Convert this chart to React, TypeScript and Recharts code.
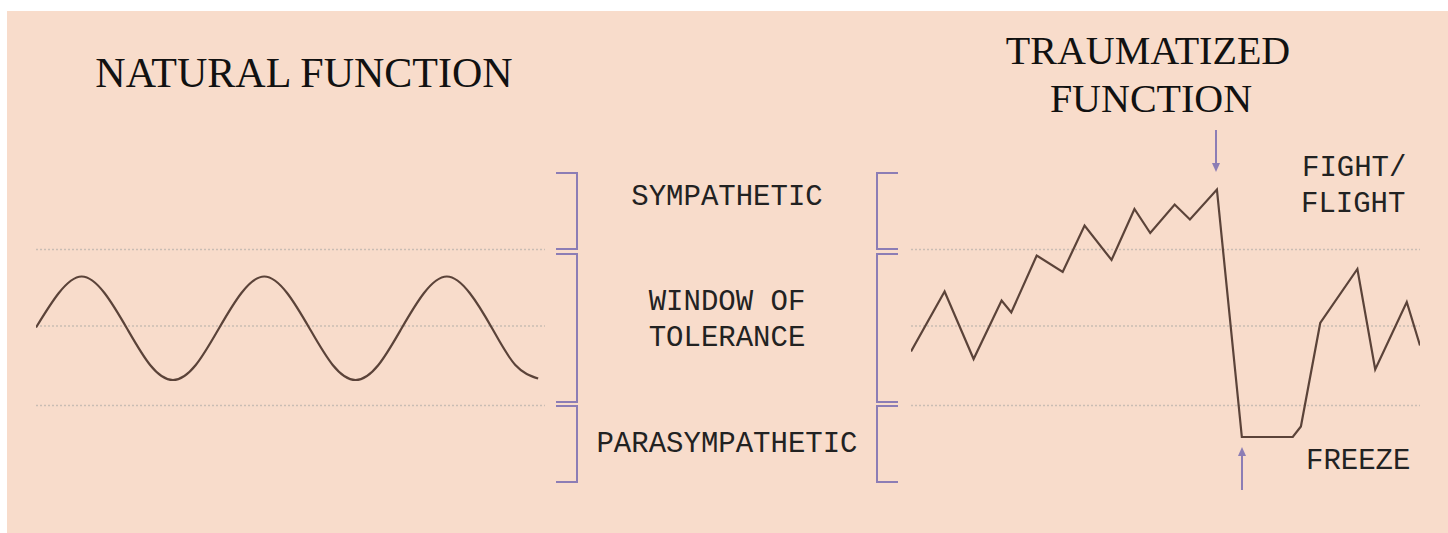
import React from 'react';
import { LineChart, Line, XAxis, YAxis, ReferenceLine } from 'recharts';

// band edges on the arousal scale (shared by both panels)
const bandLevels = [51, 0, -53];

// natural function: steady wave, sampled every eighth of a period
const naturalT = [0, 0.5, 1, 1.5, 2, 2.5, 3, 3.5, 4, 4.5, 5, 5.5, 6, 6.5, 7, 7.5, 8, 8.5, 9, 9.5, 10, 10.5, 11];
const naturalLevel = [-1, 22, 33, 22, -2, -26, -36, -26, -2, 22, 33, 22, -2, -26, -36, -26, -2, 22, 33, 22, -2, -26, -35];

// traumatized function: climbs into fight/flight, crashes into freeze
const traumaT = [0, 6.6, 12.3, 17.8, 19.7, 24.7, 29.8, 34.1, 39.4, 43.9, 47.0, 51.8, 54.8, 60.1, 65.0, 75.0, 76.6, 80.4, 87.7, 91.2, 97.4, 100];
const traumaLevel = [-17, 23, -22, 17, 9, 47, 36, 67, 44, 78, 62, 81, 71, 91, -74, -74, -67, 2, 38, -29, 16, -13];

const naturalData = naturalT.map((t, i) => ({ t, level: naturalLevel[i] }));
const traumaData = traumaT.map((t, i) => ({ t, level: traumaLevel[i] }));

const BG = '#f8dccb';
const LINE = '#5b4339';
const GRID = '#c9bdb4';
const PURPLE = '#8c7db5';
const MONO = '"Courier New", "Liberation Mono", monospace';
const SERIF = '"Liberation Serif", "DejaVu Serif", serif';

const Wave = ({ data, xMax }: { data: { t: number; level: number }[]; xMax: number }) => (
  <LineChart width={509} height={300} data={data} margin={{ top: 0, right: 0, bottom: 0, left: 0 }}>
    <XAxis type="number" dataKey="t" domain={[0, xMax]} hide />
    <YAxis type="number" domain={[-100, 100]} hide />
    {bandLevels.map((y) => (
      <ReferenceLine key={y} y={y} stroke={GRID} strokeWidth={1.5} strokeDasharray="2 2" />
    ))}
    <Line
      type={xMax > 50 ? 'linear' : 'natural'}
      dataKey="level"
      stroke={LINE}
      strokeWidth={2.2}
      dot={false}
      activeDot={false}
      isAnimationActive={false}
    />
  </LineChart>
);

// bracket path: side = 1 for "]" (ticks to the left), -1 for "[" (ticks to the right)
const bracket = (x: number, y1: number, y2: number, side: number) =>
  `M${x - side * 21},${y1} H${x} V${y2} H${x - side * 21}`;

const spans = [
  [173, 249],
  [254, 402],
  [406, 482],
];

export default function App() {
  return (
    <div style={{ position: 'absolute', left: 0, top: 0, width: 1448, height: 533, background: '#fff' }}>
      <div style={{ position: 'absolute', left: 7, top: 11, right: 0, bottom: 0, background: BG }} />
      <div style={{ position: 'absolute', left: 36, top: 176 }}>
        <Wave data={naturalData} xMax={11.15} />
      </div>
      <div style={{ position: 'absolute', left: 911, top: 176 }}>
        <Wave data={traumaData} xMax={100} />
      </div>
      <svg
        width={1448}
        height={533}
        style={{ position: 'absolute', left: 0, top: 0, pointerEvents: 'none' }}
      >
        <text x={304} y={87} textAnchor="middle" fontFamily={SERIF} fontSize={42} fill="#111">
          NATURAL FUNCTION
        </text>
        <text x={1148} y={64} textAnchor="middle" fontFamily={SERIF} fontSize={40} fill="#111">
          TRAUMATIZED
        </text>
        <text x={1151} y={112} textAnchor="middle" fontFamily={SERIF} fontSize={40} fill="#111">
          FUNCTION
        </text>

        {spans.map(([a, b], i) => (
          <g key={i} fill="none" stroke={PURPLE} strokeWidth={2}>
            <path d={bracket(577, a, b, 1)} />
            <path d={bracket(877, a, b, -1)} />
          </g>
        ))}

        <g fontFamily={MONO} fontSize={29} fill="#222">
          <text x={727} y={205} textAnchor="middle">SYMPATHETIC</text>
          <text x={727} y={310} textAnchor="middle">WINDOW OF</text>
          <text x={727} y={346} textAnchor="middle">TOLERANCE</text>
          <text x={727} y={452} textAnchor="middle">PARASYMPATHETIC</text>
          <text x={1302} y={176}>FIGHT/</text>
          <text x={1301} y={212}>FLIGHT</text>
          <text x={1306} y={469}>FREEZE</text>
        </g>

        <g stroke={PURPLE} strokeWidth={2} fill={PURPLE}>
          <line x1={1216} y1={130} x2={1216} y2={164} />
          <polygon points="1212,163 1220,163 1216,172" strokeWidth={0} />
          <line x1={1242} y1={490} x2={1242} y2={455} />
          <polygon points="1238,456 1246,456 1242,447" strokeWidth={0} />
        </g>
      </svg>
    </div>
  );
}
